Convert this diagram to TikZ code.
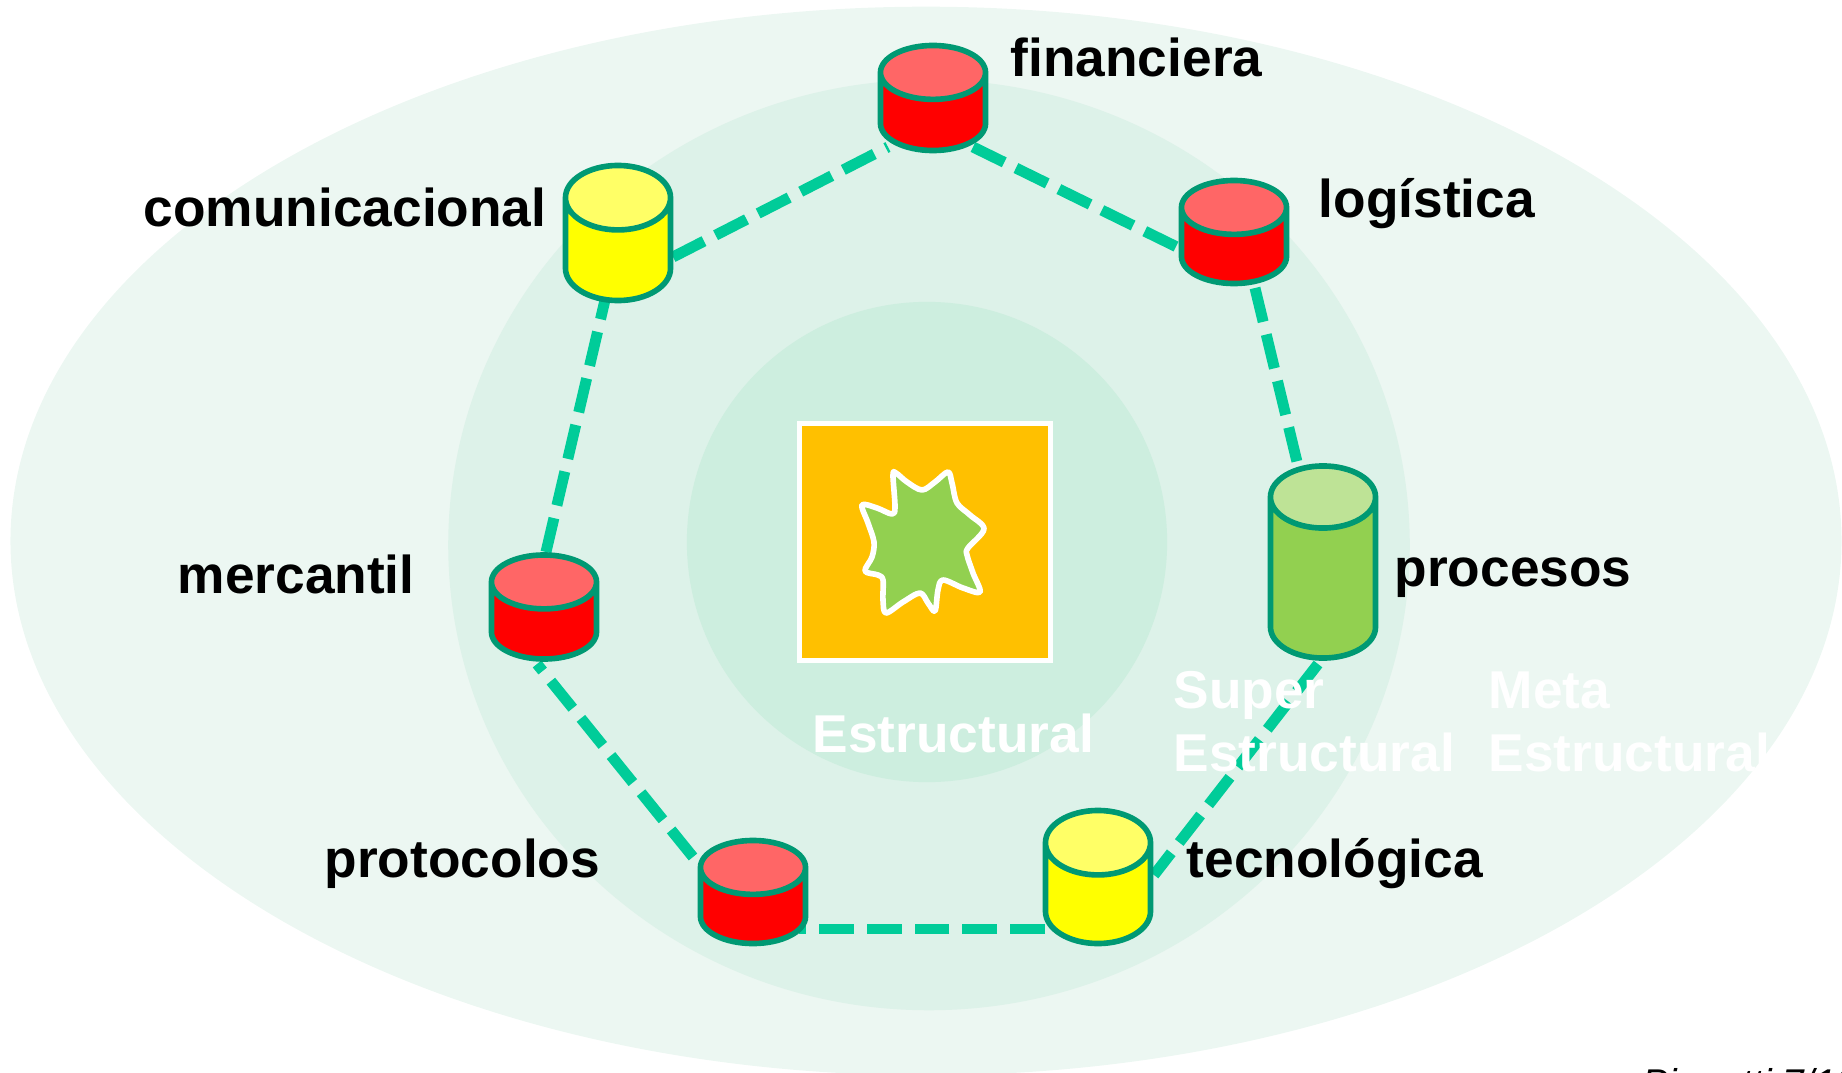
\documentclass[tikz,border=0pt]{standalone}
\usepackage{fontspec}
\setmainfont{Liberation Sans}
\usetikzlibrary{shapes.geometric,backgrounds,calc}
\definecolor{ringouter}{HTML}{ECF7F2}
\definecolor{ringmiddle}{HTML}{DDF2E9}
\definecolor{ringinner}{HTML}{CDEEDF}
\definecolor{rimgreen}{HTML}{009973}
\definecolor{linkgreen}{HTML}{00CC99}
\definecolor{boxorange}{HTML}{FFC000}
\definecolor{leafgreen}{HTML}{92D050}
\definecolor{drumred}{HTML}{FF0000}
\definecolor{drumredtop}{HTML}{FF6666}
\definecolor{drumyellow}{HTML}{FFFF00}
\definecolor{drumyellowtop}{HTML}{FFFF66}
\definecolor{drumgreentop}{HTML}{BEE396}

\begin{document}
\begin{tikzpicture}[x=0.01cm, y=-0.01cm]
    \tikzstyle{ring} = [ellipse,draw=none,inner sep=0pt]
    \tikzstyle{drum} = [cylinder,anchor=shape center,shape border rotate=90,draw=rimgreen,line width=1.6pt,cylinder uses custom fill,minimum width=1.05cm,outer sep=0pt]
    \tikzstyle{drum red} = [drum,cylinder body fill=drumred,cylinder end fill=drumredtop,shape aspect=2.3]
    \tikzstyle{drum yellow} = [drum,cylinder body fill=drumyellow,cylinder end fill=drumyellowtop,shape aspect=2.75]
    \tikzstyle{drum green} = [drum,cylinder body fill=leafgreen,cylinder end fill=drumgreentop,shape aspect=2.65]
    \tikzstyle{name label} = [anchor=base west,font=\fontsize{15.15}{17.9}\selectfont\bfseries,inner sep=0pt]
    \tikzstyle{layer label} = [name label,text=white,align=left]
    \tikzstyle{link} = [draw=linkgreen,line width=3.1pt,dash pattern=on 9.9pt off 3.7pt]
\useasboundingbox (0,0) rectangle (1842,1073);
\begin{scope}[on background layer]
\node[ring,fill=ringouter,minimum width=18.30cm,minimum height=10.68cm] (outer) at (926,541) {};
\node[ring,fill=ringmiddle,minimum width=9.61cm,minimum height=9.30cm] (middle) at (929,545) {};
\node[ring,fill=ringinner,minimum width=4.80cm,minimum height=4.80cm] (inner) at (927,542) {};
\end{scope}
\node[draw=white,line width=1.4pt,fill=boxorange,minimum width=2.50cm,minimum height=2.36cm,inner sep=0pt] (box) at (925,542) {};
\draw[white,line width=1.6pt,line join=round,fill=leafgreen] plot[smooth cycle,tension=0.55] coordinates {
(862,505) (877,508) (892,514) (895,507) (893,475) (896,473) (907,482) (922,490) (935,482) (948,472) (952,483) (957,503) (970,515) (984,529) (968,548) (967,555) (973,573) (980,592) (963,588) (943,580) (938,590) (935,611) (928,603) (920,593) (903,602) (886,613) (883,600) (883,580) (878,575) (865,571) (872,557) (874,542) (868,523)};
\node[drum red,minimum height=1.05cm] (financiera) at (933,98) {};
\node[drum red,minimum height=1.03cm] (logistica) at (1234,232) {};
\node[drum yellow,minimum height=1.35cm] (comunicacional) at (618,233) {};
\node[drum red,minimum height=1.04cm] (mercantil) at (544,607) {};
\node[drum green,minimum height=1.92cm] (procesos) at (1323,562) {};
\node[drum yellow,minimum height=1.33cm] (tecnologica) at (1098,877) {};
\node[drum red,minimum height=1.03cm] (protocolos) at (753,892) {};
\begin{scope}[on background layer]
\draw[link] ($(comunicacional.shape center)+(55,24)$) -- ($(financiera.shape center)+(-45,49)$);
\draw[link] ($(financiera.shape center)+(40,49)$) -- ($(logistica.shape center)+(-53,17)$);
\draw[link] ($(logistica.shape center)+(21,56)$) -- ($(procesos.shape center)+(-25,-96)$);
\draw[link] ($(procesos.shape center)+(-5,102)$) -- ($(tecnologica.shape center)+(56,-2)$);
\draw[link] ($(tecnologica.shape center)+(-53,52)$) -- ($(protocolos.shape center)+(46,37)$);
\draw[link] ($(protocolos.shape center)+(-60,-35)$) -- ($(mercantil.shape center)+(-7,57)$);
\draw[link] ($(mercantil.shape center)+(2,-55)$) -- ($(comunicacional.shape center)+(-13,67)$);
\end{scope}
\node[name label] (financieratext) at (1010,77) {financiera};
\node[name label] (logisticatext) at (1318,218) {logística};
\node[name label] (comunicacionaltext) at (143,227) {comunicacional};
\node[name label] (mercantiltext) at (177,593) {mercantil};
\node[name label] (procesostext) at (1394,586) {procesos};
\node[name label] (protocolostext) at (324,877) {protocolos};
\node[name label] (tecnologicatext) at (1186,877) {tecnológica};
\node[layer label] (estructural) at (812,752) {Estructural};
\node[layer label] (super) at (1173,771) {Super\\Estructural};
\node[layer label] (meta) at (1488,771) {Meta\\Estructural};
\node[anchor=base west,inner sep=0pt,font=\fontsize{11}{13}\selectfont\itshape] (credit) at (1642,1096) {Pianetti 7/19};
\end{tikzpicture}
\end{document}
